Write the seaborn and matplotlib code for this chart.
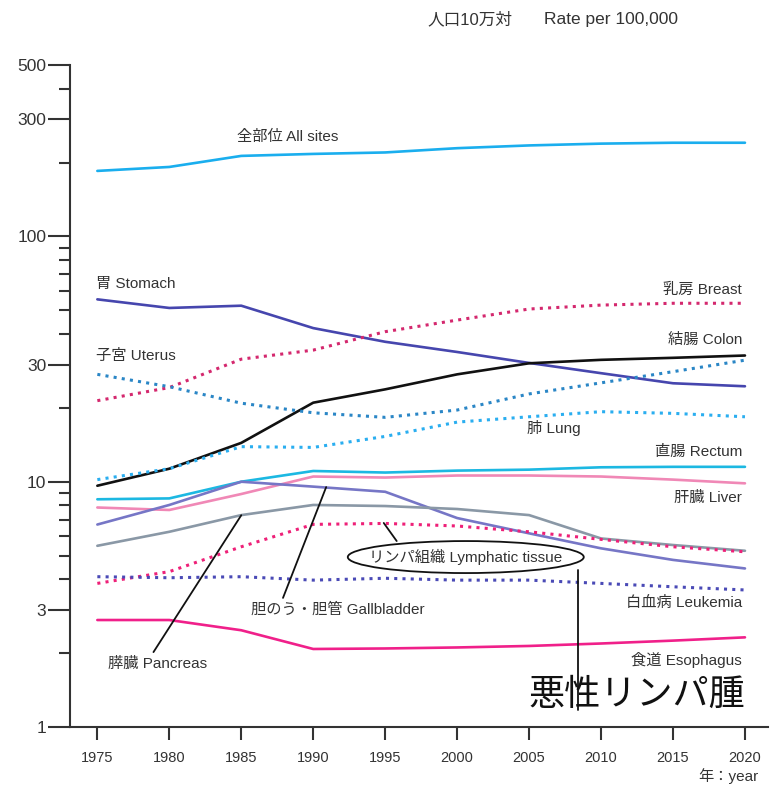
import numpy as np
import pandas as pd
import matplotlib
matplotlib.use("Agg")
import matplotlib.pyplot as plt
import seaborn as sns
from matplotlib.patches import Ellipse

# --- datos (tasa por 100.000 habitantes) ---
years = [1975, 1980, 1985, 1990, 1995, 2000, 2005, 2010, 2015, 2020]

all_sites   = [185, 192, 213, 217, 220, 229, 235, 239, 241, 241]
stomach     = [55.4, 51.1, 52.2, 42.3, 37.2, 33.8, 30.5, 27.7, 25.2, 24.5]
breast      = [21.4, 24.2, 31.6, 34.4, 40.9, 45.6, 50.6, 52.5, 53.4, 53.4]
colon       = [9.63, 11.3, 14.4, 21.0, 23.8, 27.4, 30.4, 31.4, 32.0, 32.7]
uterus      = [27.4, 24.4, 20.9, 19.1, 18.3, 19.6, 22.8, 25.3, 28.1, 31.3]
lung        = [10.2, 11.3, 13.9, 13.8, 15.3, 17.5, 18.4, 19.3, 19.0, 18.4]
rectum      = [8.48, 8.55, 10.0, 11.06, 10.9, 11.1, 11.2, 11.45, 11.5, 11.5]
liver       = [7.85, 7.67, 8.91, 10.5, 10.4, 10.6, 10.6, 10.5, 10.2, 9.85]
gallbladder = [6.69, 8.04, 10.0, 9.55, 9.1, 7.11, 6.16, 5.35, 4.80, 4.43]
pancreas    = [5.48, 6.25, 7.31, 8.04, 7.96, 7.74, 7.31, 5.87, 5.52, 5.23]
lymphatic   = [3.85, 4.30, 5.43, 6.70, 6.76, 6.60, 6.25, 5.82, 5.43, 5.18]
leukemia    = [4.10, 4.06, 4.10, 3.97, 4.04, 3.97, 3.97, 3.85, 3.73, 3.62]
esophagus   = [2.73, 2.73, 2.48, 2.08, 2.09, 2.11, 2.14, 2.19, 2.25, 2.32]

y_major = [1, 3, 10, 30, 100, 300, 500]
y_minor = [2, 4, 5, 6, 7, 8, 9, 20, 40, 50, 60, 70, 80, 90, 200, 400]

# (serie, color, estilo)
series = [
    (all_sites, "#1aaeee", "-"),
    (stomach, "#4646ae", "-"),
    (breast, "#d4286e", ":"),
    (colon, "#111111", "-"),
    (uterus, "#2a86c6", ":"),
    (lung, "#2aaef0", ":"),
    (rectum, "#1cb8e2", "-"),
    (liver, "#f088b6", "-"),
    (gallbladder, "#7676c6", "-"),
    (pancreas, "#8a98a6", "-"),
    (lymphatic, "#ee2078", ":"),
    (leukemia, "#4a4ab6", ":"),
    (esophagus, "#f0208a", "-"),
]

sns.set_style("ticks")
plt.rcParams["font.family"] = ["Liberation Sans", "Noto Sans CJK JP", "DejaVu Sans"]

fig = plt.figure(figsize=(7.71, 7.88), dpi=100)
ax = fig.add_axes([70 / 771, 1 - 727 / 788, 698 / 771, 662 / 788])

for vals, col, ls in series:
    if ls == ":":
        sns.lineplot(x=years, y=vals, ax=ax, color=col, linewidth=2.2,
                     linestyle=(0, (1.0, 1.7)))
    else:
        sns.lineplot(x=years, y=vals, ax=ax, color=col, linewidth=1.9)

ax.set_yscale("log")
ax.set_xlim(1973.1, 2021.6)
ax.set_ylim(1, 500)
ax.set_yticks(y_major)
ax.set_yticklabels([str(v) for v in y_major])
ax.set_yticks(y_minor, minor=True)
ax.set_yticklabels([], minor=True)
ax.set_xticks(years)
ax.set_xticklabels([str(y) for y in years])

for s in ["top", "right"]:
    ax.spines[s].set_visible(False)
for s in ["left", "bottom"]:
    ax.spines[s].set_linewidth(1.5)
    ax.spines[s].set_color("#333333")
ax.tick_params(axis="y", which="major", length=16, width=1.5, color="#333333",
               labelsize=12.5, labelcolor="#333333", pad=1)
ax.tick_params(axis="y", which="minor", length=8, width=1.5, color="#333333")
ax.tick_params(axis="x", which="major", length=9, width=1.5, color="#333333",
               labelsize=10.5, labelcolor="#333333", pad=8)
ax.set_xlabel("")
ax.set_ylabel("")

txt = dict(fontsize=11, color="#333333", va="center")
ax.text(1988.2, 254, "全部位 All sites", ha="center", **txt)
ax.text(1974.9, 64.0, "胃 Stomach", ha="left", **txt)
ax.text(1974.9, 32.5, "子宮 Uterus", ha="left", **txt)
ax.text(2019.8, 60.5, "乳房 Breast", ha="right", **txt)
ax.text(2019.8, 37.8, "結腸 Colon", ha="right", **txt)
ax.text(2006.7, 16.6, "肺 Lung", ha="center", **txt)
ax.text(2019.8, 13.2, "直腸 Rectum", ha="right", **txt)
ax.text(2019.8, 8.58, "肝臓 Liver", ha="right", **txt)
ax.text(2019.8, 3.20, "白血病 Leukemia", ha="right", **txt)
ax.text(2019.8, 1.875, "食道 Esophagus", ha="right", **txt)
ax.text(1991.7, 3.0, "胆のう・胆管 Gallbladder", ha="center", **txt)
ax.text(1979.2, 1.81, "膵臓 Pancreas", ha="center", **txt)
ax.text(2000.6, 4.93, "リンパ組織 Lymphatic tissue", ha="center", **txt)
ax.text(2020.0, 1.35, "悪性リンパ腫", ha="right", va="center", fontsize=26,
        color="#111111", family=["Noto Sans CJK JP"])

# líneas indicadoras
ax.plot([1985.0, 1978.9], [7.3, 2.02], color="#111111", lw=1.3)
ax.plot([1990.9, 1987.9], [9.51, 3.36], color="#111111", lw=1.3)
ax.plot([1994.9, 1995.8], [6.79, 5.73], color="#111111", lw=1.3)
ax.plot([2008.4, 2008.4], [4.37, 1.17], color="#111111", lw=1.3)

# elipse alrededor de "Lymphatic tissue" (en coordenadas del eje)
xmin, xmax = ax.get_xlim()
ex = (2000.6 - xmin) / (xmax - xmin)
ey = np.log10(4.93) / np.log10(500)
ax.add_patch(Ellipse((ex, ey), 236 / 698, 32 / 662, transform=ax.transAxes,
                     fill=False, edgecolor="#111111", lw=1.3))

fig.text(470 / 771, 0.975, "人口10万対", ha="center", va="center",
         fontsize=12, color="#333333")
fig.text(611 / 771, 0.975, "Rate per 100,000", ha="center", va="center",
         fontsize=12.5, color="#333333")
fig.text(0.905, 0.015, "年：year", ha="left", va="center", fontsize=11,
         color="#333333")

fig.savefig("out.png", dpi=100)
